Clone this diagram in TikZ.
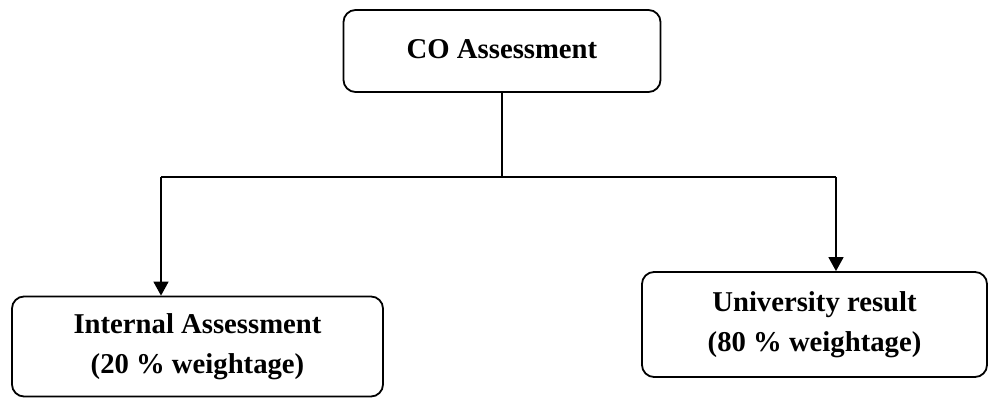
\documentclass[tikz,border=0pt]{standalone}
\usepackage{fontspec}
\setmainfont{Liberation Serif}
\usetikzlibrary{arrows.meta}
\begin{document}
\begin{tikzpicture}[x=1pt,y=-1pt,
  boxstyle/.style={draw, line width=1.8pt, rounded corners=12pt, align=center,
    font=\fontsize{28.7}{40}\selectfont\bfseries, inner sep=0pt},
  conn/.style={line width=1.6pt},
  arr/.style={conn, -{Triangle[length=14pt,width=15pt]}}]
\useasboundingbox (0,0) rectangle (989,398);
\node[boxstyle, minimum width=317pt, minimum height=82pt] (top) at (502,51) {\raisebox{4pt}{CO Assessment}};
\node[boxstyle, minimum width=371pt, minimum height=100pt] (left) at (197.5,346.5) {Internal Assessment\\(20 \% weightage)};
\node[boxstyle, minimum width=345pt, minimum height=105pt] (right) at (814.5,324.5) {University result\\(80 \% weightage)};
\coordinate (jl) at (161,177);
\coordinate (jr) at (836,177);
\draw[conn] (top.south) -- (top.south |- jl);
\draw[conn] (jl) -- (jr);
\draw[arr] (jl) -- (jl |- left.north);
\draw[arr] (jr) -- (jr |- right.north);
\end{tikzpicture}
\end{document}
